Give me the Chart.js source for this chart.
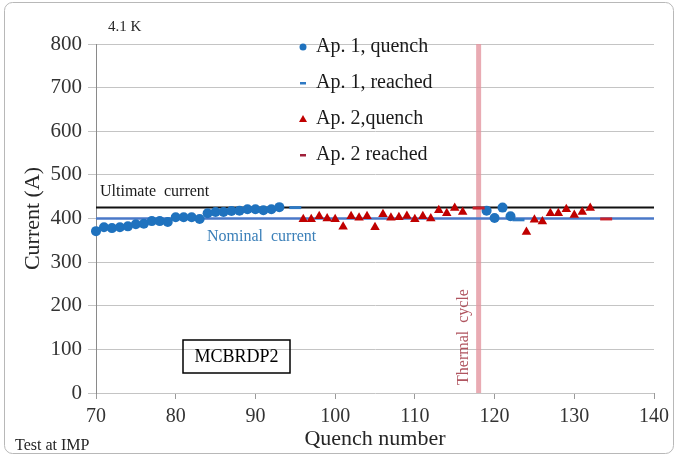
<!DOCTYPE html>
<html>
<head>
<meta charset="utf-8">
<script src="https://cdn.jsdelivr.net/npm/chart.js@4.4.1/dist/chart.umd.min.js"></script>
<style>
html,body{margin:0;padding:0;background:#fff;}
#wrap{width:679px;height:457px;position:relative;}
</style>
</head>
<body>
<div id="wrap"><canvas id="c" width="679" height="457"></canvas></div>
<script>
// ---- data ----
const ap1QuenchX = [70,71,72,73,74,75,76,77,78,79,80,81,82,83,84,85,86,87,88,89,90,91,92,93,119,120,121,122];
const ap1QuenchY = [371,380,378,380,382,387,388,394,394,392,403,403,403,399,412,415,415,417,418,421,421,419,421,426,418,401,425,405];
const ap1ReachedX = [95,123];
const ap1ReachedY = [425,397];
const ap2QuenchX = [96,97,98,99,100,101,102,103,104,105,106,107,108,109,110,111,112,113,114,115,116,124,125,126,127,128,129,130,131,132];
const ap2QuenchY = [398,398,405,400,398,381,405,402,405,380,410,402,403,406,398,405,400,419,412,424,415,369,397,393,412,412,421,408,415,424];
const ap2ReachedX = [118,134];
const ap2ReachedY = [424,399];
const ultimateCurrent = 425;
const nominalCurrent = 400;
const thermalCycleX = 118;
const xTicks = [70,80,90,100,110,120,130,140];
const yTicks = [0,100,200,300,400,500,600,700,800];

const zip = (xs, ys) => xs.map((x, i) => ({x: x, y: ys[i]}));
const SERIF = '"Liberation Serif", "DejaVu Serif", serif';

const annot = {
  id: 'annot',
  afterDraw(chart) {
    const ctx = chart.ctx;
    const xs = chart.scales.x, ys = chart.scales.y;
    ctx.save();
    // outer border
    ctx.strokeStyle = '#b8b8b8';
    ctx.lineWidth = 1;
    ctx.beginPath();
    ctx.roundRect(4.5, 2.5, 669, 451, 8);
    ctx.stroke();

    ctx.textBaseline = 'middle';
    ctx.textAlign = 'left';
    ctx.fillStyle = '#262626';
    ctx.font = '15px ' + SERIF;
    ctx.fillText('4.1 K', 108, 27);

    ctx.font = '16px ' + SERIF;
    ctx.fillStyle = '#1a1a1a';
    ctx.fillText('Ultimate  current', 100, ys.getPixelForValue(ultimateCurrent) - 16);
    ctx.fillStyle = '#3a7fb8';
    ctx.fillText('Nominal  current', 207, ys.getPixelForValue(nominalCurrent) + 18);

    // MCBRDP2 box
    ctx.strokeStyle = '#000';
    ctx.lineWidth = 1.5;
    ctx.strokeRect(183, 340, 107, 33);
    ctx.fillStyle = '#000';
    ctx.textAlign = 'center';
    ctx.font = '18px ' + SERIF;
    ctx.fillText('MCBRDP2', 236.5, 357);

    // Test at IMP
    ctx.textAlign = 'left';
    ctx.font = '16px ' + SERIF;
    ctx.fillStyle = '#262626';
    ctx.fillText('Test at IMP', 15, 446);

    // Thermal cycle
    ctx.save();
    ctx.translate(xs.getPixelForValue(thermalCycleX) - 15, 337);
    ctx.rotate(-Math.PI / 2);
    ctx.textAlign = 'center';
    ctx.fillStyle = '#b05560';
    ctx.font = '16px ' + SERIF;
    ctx.fillText('Thermal  cycle', 0, 0);
    ctx.restore();

    // legend
    const lx = 303, tx = 316;
    const rows = [47, 83, 119, 155];
    ctx.font = '20px ' + SERIF;
    ctx.fillStyle = '#1a1a1a';
    ctx.textAlign = 'left';
    const labels = ['Ap. 1, quench', 'Ap. 1, reached', 'Ap. 2,quench', 'Ap. 2 reached'];
    labels.forEach((t, i) => ctx.fillText(t, tx, rows[i]));
    ctx.fillStyle = '#1f72be';
    ctx.beginPath(); ctx.arc(lx, rows[0], 3.5, 0, Math.PI * 2); ctx.fill();
    ctx.fillStyle = '#2f7ac4';
    ctx.fillRect(lx - 3, rows[1] - 1, 6, 2.5);
    ctx.fillStyle = '#c00000';
    ctx.beginPath(); ctx.moveTo(lx, rows[2] - 4); ctx.lineTo(lx + 4, rows[2] + 3); ctx.lineTo(lx - 4, rows[2] + 3); ctx.closePath(); ctx.fill();
    ctx.fillStyle = '#a0203a';
    ctx.fillRect(lx - 3, rows[3] - 1, 6, 2.5);
    ctx.restore();
  }
};

new Chart(document.getElementById('c'), {
  type: 'scatter',
  data: {
    datasets: [
      {label: 'Ap. 1, quench', data: zip(ap1QuenchX, ap1QuenchY), pointStyle: 'circle', pointRadius: 5, backgroundColor: '#1f72be', borderColor: '#1f72be', borderWidth: 0, order: 1, clip: false},
      {label: 'Ap. 1, reached', data: zip(ap1ReachedX, ap1ReachedY), pointStyle: 'line', pointRadius: 6, borderColor: '#2f7ac4', borderWidth: 3, order: 1},
      {label: 'Ap. 2,quench', data: zip(ap2QuenchX, ap2QuenchY), pointStyle: 'triangle', pointRadius: 5.5, backgroundColor: '#c00000', borderColor: '#c00000', borderWidth: 0, order: 0},
      {label: 'Ap. 2 reached', data: zip(ap2ReachedX, ap2ReachedY), pointStyle: 'line', pointRadius: 6, borderColor: '#c8202a', borderWidth: 3, order: 0},
      {label: 'ultimate', data: [{x: 70, y: ultimateCurrent}, {x: 140, y: ultimateCurrent}], showLine: true, pointRadius: 0, borderColor: '#111', borderWidth: 2, order: 5},
      {label: 'nominal', data: [{x: 70, y: nominalCurrent}, {x: 140, y: nominalCurrent}], showLine: true, pointRadius: 0, borderColor: '#4a78c8', borderWidth: 2.5, order: 5},
      {label: 'thermal', data: [{x: thermalCycleX, y: 0}, {x: thermalCycleX, y: 800}], showLine: true, pointRadius: 0, borderColor: 'rgba(228,150,160,0.8)', borderWidth: 5, order: 6}
    ]
  },
  options: {
    responsive: false,
    animation: false,
    devicePixelRatio: 1,
    layout: {padding: {left: 18, right: 25, top: 44, bottom: 3}},
    plugins: {legend: {display: false}, tooltip: {enabled: false}},
    scales: {
      x: {
        type: 'linear', min: 70, max: 140,
        afterBuildTicks: s => { s.ticks = xTicks.map(v => ({value: v})); },
        afterFit: s => { s.height = 61; },
        grid: {drawOnChartArea: false, drawTicks: true, tickLength: 6, color: '#9a9a9a'},
        border: {display: false},
        ticks: {color: '#333', font: {family: SERIF, size: 20}, padding: 6},
        title: {display: true, text: 'Quench number', color: '#262626', font: {family: SERIF, size: 22}, padding: {top: 0, bottom: 2}}
      },
      y: {
        min: 0, max: 800,
        afterBuildTicks: s => { s.ticks = yTicks.map(v => ({value: v})); },
        afterFit: s => { s.width = 78; },
        grid: {color: '#c4c4c4', lineWidth: 1, tickLength: 8},
        border: {display: true, color: '#8a8a8a', width: 1},
        ticks: {color: '#333', font: {family: SERIF, size: 21}, padding: 6},
        title: {display: true, text: 'Current (A)', color: '#262626', font: {family: SERIF, size: 22}, padding: 2}
      }
    }
  },
  plugins: [annot]
});
</script>
</body>
</html>
